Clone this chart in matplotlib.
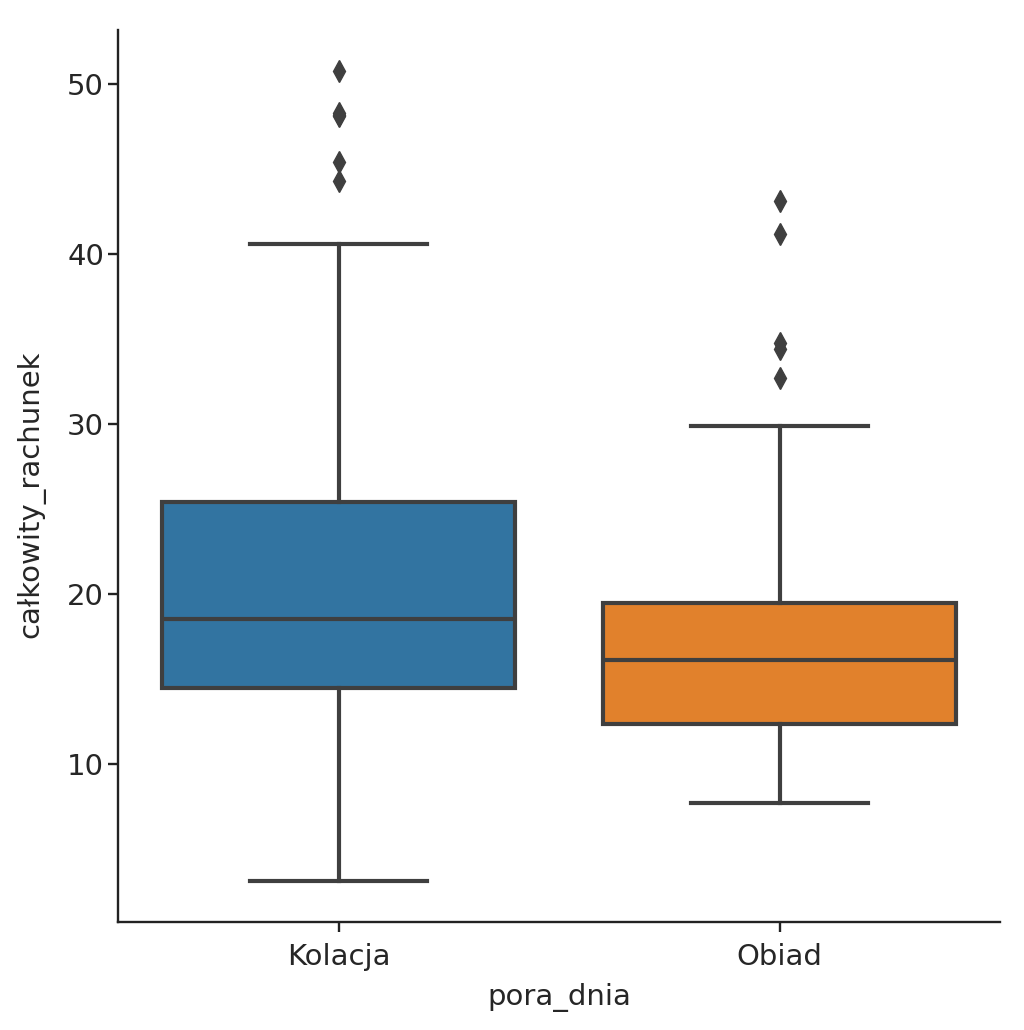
import matplotlib
matplotlib.use("Agg")
import matplotlib.pyplot as plt

categories = ["Kolacja", "Obiad"]
whis_low = [3.1, 7.7]
q1 = [14.5, 12.35]
median = [18.55, 16.1]
q3 = [25.4, 19.5]
whis_high = [40.6, 29.9]
fliers = [
    [50.8, 48.3, 48.2, 48.1, 45.4, 44.3],
    [43.1, 41.2, 34.8, 34.4, 32.7],
]
colors = ["#3274a1", "#e1812c"]
line_color = "#3f3f3f"

plt.rcParams['font.family'] = ['DejaVu Sans']

fig = plt.figure(figsize=(10.24, 10.30), dpi=100)
ax = fig.add_axes([118/1024, 1 - 922/1030, (1000-118)/1024, (922-30)/1030])

stats = []
for i, c in enumerate(categories):
    stats.append(dict(label=c, whislo=whis_low[i], q1=q1[i], med=median[i],
                      q3=q3[i], whishi=whis_high[i], fliers=fliers[i]))

lw = 3.0
bp = ax.bxp(stats, positions=range(len(categories)), widths=0.8,
            patch_artist=True, showfliers=True,
            boxprops=dict(edgecolor=line_color, linewidth=lw),
            medianprops=dict(color=line_color, linewidth=lw),
            whiskerprops=dict(color=line_color, linewidth=lw),
            capprops=dict(color=line_color, linewidth=lw),
            flierprops=dict(marker='d', markerfacecolor=line_color,
                            markeredgecolor=line_color, markersize=11))
for patch, col in zip(bp['boxes'], colors):
    patch.set_facecolor(col)

ax.set_xlim(-0.5, 1.5)
ymin = min(whis_low); ymax = max(max(f) for f in fliers)
rng = ymax - ymin
ax.set_ylim(ymin - 0.05 * rng, ymax + 0.05 * rng)
ax.set_yticks([10, 20, 30, 40, 50])
ax.set_xticks(range(len(categories)))
ax.set_xticklabels(categories)

for s in ['top', 'right']:
    ax.spines[s].set_visible(False)
for s in ['left', 'bottom']:
    ax.spines[s].set_linewidth(1.7)
    ax.spines[s].set_color('#222222')

ax.tick_params(axis='both', labelsize=21, length=7, width=1.7, color='#222222',
               labelcolor='#262626')
ax.tick_params(axis='y', pad=3)
ax.tick_params(axis='x', pad=8)
ax.set_xlabel("pora_dnia", fontsize=21, color='#262626', labelpad=9)
ax.set_ylabel("całkowity_rachunek", fontsize=21, color='#262626')
ax.yaxis.set_label_coords(-0.082, 0.479)

fig.savefig("out.png", dpi=100, facecolor='white')
